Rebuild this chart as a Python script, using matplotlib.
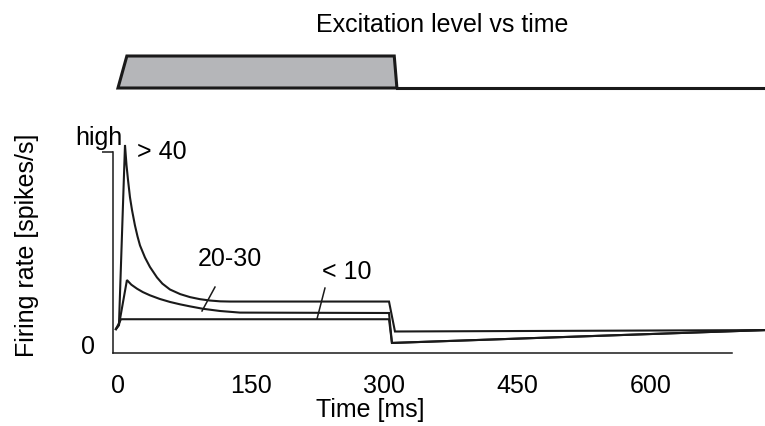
import matplotlib
matplotlib.use("Agg")
import matplotlib.pyplot as plt
from matplotlib.patches import Polygon

plt.rcParams['font.family'] = ['Liberation Sans', 'DejaVu Sans']

# excitation level (stimulus) vs time, level 0..1
stim_t = [0, 10, 311, 314]
stim_level = [0, 1, 1, 0]
stim_baseline_end = 728

# firing rate curves, time in ms, rate in % of "high"
t_hi = [-2.3, 1.1, 7.9, 9.6, 11.3, 13.5, 15.8, 19.1, 22.0, 24.8, 30.4, 36.0, 43.9, 50.0,
        58.5, 70.0, 81.1, 92.0, 103.6, 115.0, 126.1, 305.1, 311.8, 728.4]
r_hi = [11.9, 13.9, 103.5, 93.5, 86.1, 77.5, 71.1, 63.5, 58.0, 53.5, 47.5, 42.8, 37.6, 34.5,
        31.6, 29.3, 27.8, 26.8, 26.1, 25.7, 25.6, 25.6, 10.7, 11.4]

t_mid = [-2.3, 1.1, 10.1, 15.0, 21.4, 28.0, 36.0, 47.0, 58.5, 70.0, 81.1, 95.7, 114.8, 137.3,
         305.1, 308.4, 728.4]
r_mid = [11.9, 13.9, 36.3, 34.0, 32.0, 30.3, 28.7, 26.9, 25.4, 24.2, 23.2, 22.0, 20.9, 20.1,
         19.9, 5.0, 11.4]

t_lo = [-2.3, 3.4, 305.1, 308.4, 728.4]
r_lo = [11.9, 16.8, 16.8, 5.0, 11.4]

xticks = [0, 150, 300, 450, 600]
FS = 18

fig = plt.figure(figsize=(7.65, 4.26), dpi=100)
W, H = 765, 426

# main axes, placed in pixel terms
ax = fig.add_axes([113 / W, 1 - 353 / H, (732 - 113) / W, (353 - 152) / H])
ax.set_xlim(-5.6, 691.2)
ax.set_ylim(0, 100)

for t, r in [(t_hi, r_hi), (t_mid, r_mid), (t_lo, r_lo)]:
    ax.plot(t, r, color='#1a1a1a', lw=1.5, clip_on=False, solid_joinstyle='miter')

ax.spines['top'].set_visible(False)
ax.spines['right'].set_visible(False)
for s in ['left', 'bottom']:
    ax.spines[s].set_linewidth(1.1)
    ax.spines[s].set_color('#1a1a1a')

ax.set_xticks(xticks)
ax.set_xticklabels([str(v) for v in xticks], fontsize=FS)
ax.tick_params(axis='x', length=0, pad=15)
ax.set_yticks([100])
ax.set_yticklabels([''])
ax.tick_params(axis='y', length=8, width=1.1, color='#1a1a1a')

ax.text(-22, 107, 'high', fontsize=FS, ha='center', va='center', clip_on=False)
ax.text(-33.8, 3.0, '0', fontsize=FS, ha='center', va='center', clip_on=False)

# curve labels
ax.text(21.4, 100, '> 40', fontsize=FS, ha='left', va='center', clip_on=False)
ax.text(126, 46.8, '20-30', fontsize=FS, ha='center', va='center')
ax.text(257, 40.3, '< 10', fontsize=FS, ha='center', va='center')
ax.plot([109.2, 94.6], [32.8, 20.9], color='#1a1a1a', lw=1.1)
ax.plot([233, 224], [32.3, 16.9], color='#1a1a1a', lw=1.1)

fig.text(370 / W, 1 - 410 / H, 'Time [ms]', fontsize=FS, ha='center', va='center')
fig.text(27 / W, 1 - 245 / H, 'Firing rate [spikes/s]', fontsize=FS,
         ha='center', va='center', rotation=90)

# stimulus panel
ax2 = fig.add_axes([113 / W, 1 - 100 / H, (732 - 113) / W, 60 / H])
ax2.set_xlim(-5.6, 691.2)
ax2.set_ylim(-0.375, 1.5)
ax2.axis('off')
poly = Polygon(list(zip(stim_t, stim_level)), closed=True, facecolor='#b5b6b9',
               edgecolor='#1a1a1a', lw=2.2, joinstyle='miter', clip_on=False)
ax2.add_patch(poly)
ax2.plot([stim_t[-1], stim_baseline_end], [0, 0], color='#1a1a1a', lw=2.2, clip_on=False)

fig.text(442 / W, 1 - 25 / H, 'Excitation level vs time', fontsize=FS, ha='center', va='center')

fig.savefig('out.png', dpi=100)
